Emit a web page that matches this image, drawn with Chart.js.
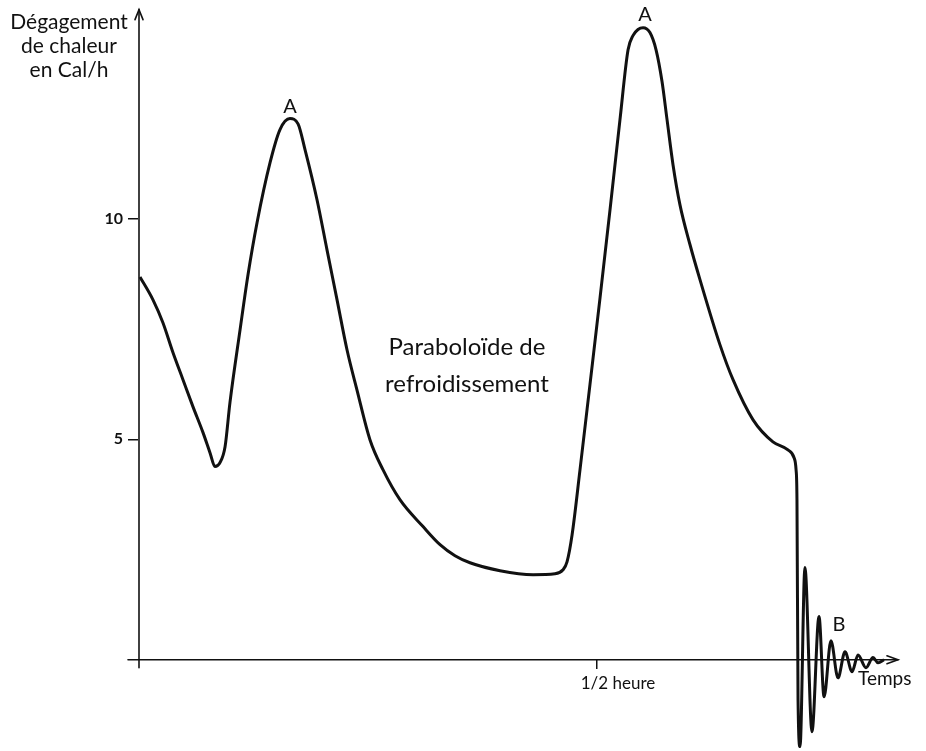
<!DOCTYPE html>
<html>
<head>
<meta charset="utf-8">
<script src="https://cdn.jsdelivr.net/npm/chart.js@4/dist/chart.umd.min.js"></script>
<style>
  html, body { margin: 0; padding: 0; background: #fff; }
  canvas { display: block; }
</style>
</head>
<body>
<canvas id="c" width="926" height="751"></canvas>
<script>
// Time in minutes
const times = [0.13, 0.98, 1.63, 2.29, 2.94, 3.59, 4.25, 4.71, 5.03, 5.36, 5.69, 6.01, 6.67, 7.19, 7.78, 8.63,
  9.28, 9.93, 10.46, 10.92, 11.70, 12.35, 13.01, 13.66, 14.31, 15.16, 16.01, 17.12, 18.63, 19.74,
  20.72, 21.70, 23.66, 25.82, 27.25, 27.78, 28.04, 28.37, 28.89, 29.54, 30.20, 30.85, 31.50, 32.03, 32.35,
  32.68, 33.01, 33.46, 33.86, 34.25, 34.58, 34.97, 35.42, 36.08, 36.73, 38.04, 38.89, 40.20, 41.50,
  42.48, 42.88, 43.01, 43.07, 43.14, 43.27, 43.59, 44.05, 44.51, 44.84, 45.29, 45.75, 46.21, 46.67,
  47.06, 47.58, 48.04, 48.37, 48.76];
// Heat release, Cal/h
const heat = [8.68, 8.16, 7.64, 6.96, 6.35, 5.74, 5.15, 4.69, 4.38, 4.47, 4.83, 5.83, 7.48, 8.73, 9.91, 11.27,
  12.02, 12.27, 12.15, 11.56, 10.43, 9.30, 8.16, 7.03, 6.12, 4.99, 4.31, 3.63, 3.02, 2.61,
  2.36, 2.20, 2.02, 1.93, 1.95, 2.04, 2.22, 2.83, 4.31, 6.24, 8.21, 10.20, 12.24, 13.83, 14.15,
  14.29, 14.33, 14.22, 13.83, 13.11, 12.24, 11.22, 10.32, 9.41, 8.62, 7.14, 6.35, 5.44, 4.94,
  4.76, 4.58, 4.31, 3.63, -0.91, -1.97, 2.09, -1.63, 0.98, -0.84, 0.43, -0.41, 0.18, -0.27,
  0.11, -0.18, 0.05, -0.07, 0];

const yTickValues = [5, 10];
const xTickValues = [30];
const xTickLabels = ['1/2 heure'];

const yTitle = ['Dégagement', 'de chaleur', 'en Cal/h'];
const xTitle = 'Temps';
const notes = [
  { text: 'A', t: 9.93, v: 12.54, size: 20 },
  { text: 'A', t: 33.14, v: 14.63, size: 20 },
  { text: 'B', t: 45.82, v: 0.79, size: 20 },
  { text: 'Paraboloïde de', t: 21.5, v: 6.92, size: 24, base: true },
  { text: 'refroidissement', t: 21.5, v: 6.08, size: 24, base: true }
];

const FONT = 'Lato, "DejaVu Sans", sans-serif';
const INK = '#111';

const decor = {
  id: 'decor',
  beforeDatasetsDraw(chart) {
    const ctx = chart.ctx;
    const xs = chart.scales.x, ys = chart.scales.y;
    const x0 = xs.getPixelForValue(0), y0 = ys.getPixelForValue(0);
    const yTop = ys.getPixelForValue(14.74);
    const xEnd = xs.getPixelForValue(49.67);
    ctx.save();
    ctx.strokeStyle = INK;
    ctx.lineWidth = 1.6;
    ctx.lineCap = 'round';
    // y axis
    ctx.beginPath();
    ctx.moveTo(x0 + 1, y0 + 8);
    ctx.lineTo(x0 + 1, yTop);
    ctx.stroke();
    ctx.beginPath();
    ctx.moveTo(x0 - 3, yTop + 10);
    ctx.lineTo(x0 + 1, yTop);
    ctx.lineTo(x0 + 5, yTop + 10);
    ctx.stroke();
    // x axis
    ctx.beginPath();
    ctx.moveTo(x0 - 10, y0);
    ctx.lineTo(xEnd, y0);
    ctx.stroke();
    ctx.beginPath();
    ctx.moveTo(xEnd - 11, y0 - 4);
    ctx.lineTo(xEnd, y0);
    ctx.lineTo(xEnd - 11, y0 + 4);
    ctx.stroke();
    ctx.restore();
  },
  afterDatasetsDraw(chart) {
    const ctx = chart.ctx;
    const xs = chart.scales.x, ys = chart.scales.y;
    ctx.save();
    ctx.fillStyle = INK;
    // y title
    ctx.font = '21px ' + FONT;
    ctx.textAlign = 'center';
    ctx.textBaseline = 'alphabetic';
    const tb = [29, 53, 77];
    yTitle.forEach((s, i) => ctx.fillText(s, 69, tb[i]));
    // notes
    notes.forEach(n => {
      ctx.font = n.size + 'px ' + FONT;
      ctx.textAlign = 'center';
      ctx.textBaseline = n.base ? 'alphabetic' : 'middle';
      ctx.fillText(n.text, xs.getPixelForValue(n.t), ys.getPixelForValue(n.v));
    });
    // x title
    ctx.font = '19px ' + FONT;
    ctx.textAlign = 'left';
    ctx.textBaseline = 'alphabetic';
    ctx.fillText(xTitle, xs.getPixelForValue(47.06), ys.getPixelForValue(-0.57));
    ctx.restore();
  }
};

new Chart(document.getElementById('c'), {
  type: 'line',
  data: {
    datasets: [{
      data: times.map((t, i) => ({ x: t, y: heat[i] })),
      borderColor: INK,
      borderWidth: 3,
      pointRadius: 0,
      fill: false,
      cubicInterpolationMode: 'monotone'
    }]
  },
  options: {
    responsive: false,
    animation: false,
    layout: { padding: { left: 0, right: 23, top: 7, bottom: 3 } },
    plugins: { legend: { display: false }, tooltip: { enabled: false } },
    scales: {
      x: {
        type: 'linear',
        min: 0,
        max: 50,
        position: { y: 0 },
        border: { display: false },
        grid: { drawOnChartArea: false, drawTicks: true, tickLength: 9, color: INK, lineWidth: 1.5 },
        afterBuildTicks(s) { s.ticks = xTickValues.map(v => ({ value: v })); },
        afterFit(s) { s.paddingLeft = 0; s.paddingRight = 0; },
        ticks: {
          color: INK,
          font: { family: FONT, size: 17 },
          padding: 5,
          labelOffset: 21,
          maxRotation: 0,
          autoSkip: false,
          callback(v) { const i = xTickValues.indexOf(v); return i >= 0 ? xTickLabels[i] : ''; }
        }
      },
      y: {
        type: 'linear',
        min: -2,
        max: 14.8,
        position: 'left',
        border: { display: false },
        grid: { drawOnChartArea: false, drawTicks: true, tickLength: 10, color: INK, lineWidth: 1.5 },
        afterBuildTicks(s) { s.ticks = yTickValues.map(v => ({ value: v })); },
        afterFit(s) { s.width = 138; s.paddingTop = 0; s.paddingBottom = 0; },
        ticks: {
          color: INK,
          font: { family: FONT, size: 16, weight: 'bold' },
          padding: 5,
          autoSkip: false
        }
      }
    }
  },
  plugins: [decor]
});
</script>
</body>
</html>
